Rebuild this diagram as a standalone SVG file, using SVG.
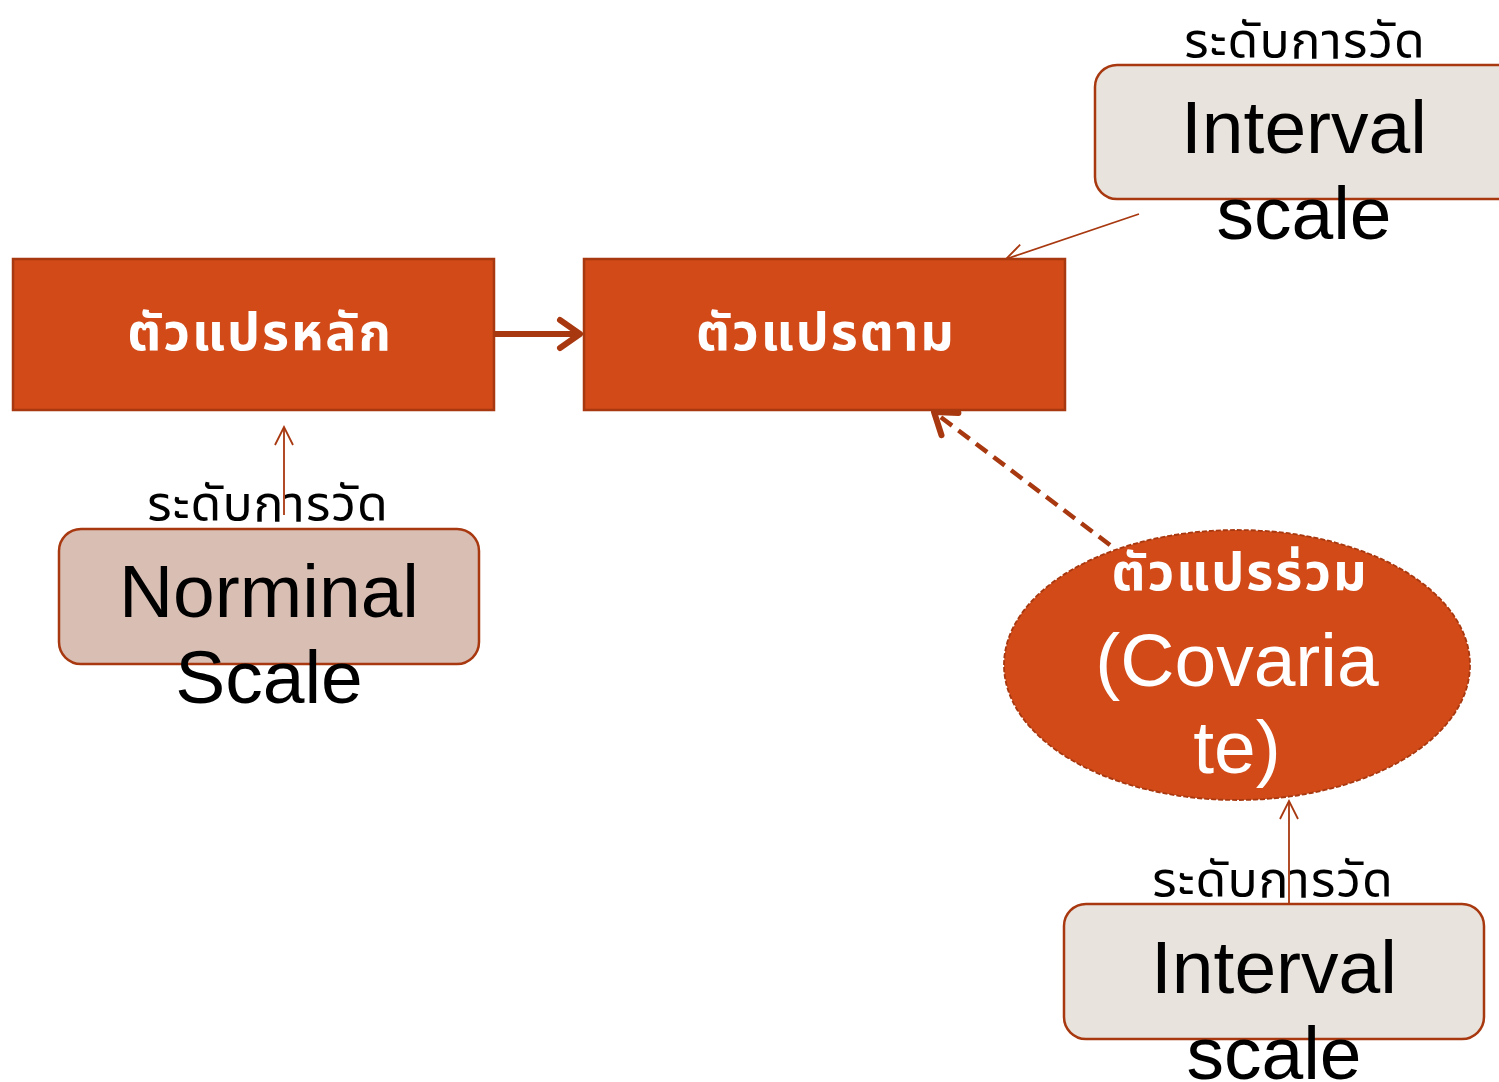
<svg xmlns="http://www.w3.org/2000/svg" width="1499" height="1082" viewBox="0 0 1499 1082">
<style>
.box{fill:#D14A18;stroke:#A8380F;stroke-width:2.5}
.scale{stroke:#A8380F;stroke-width:2.5}
.lt{fill:#E8E3DC}
.pk{fill:#D9BEB4}
.en{font-family:"Liberation Sans",Arial,sans-serif;font-size:75px;text-anchor:middle;fill:#000}
.th{font-family:"Noto Sans","Noto Sans Thai","DejaVu Sans",sans-serif;font-size:50px;letter-spacing:1px;text-anchor:middle;fill:#000}
.thw{font-family:"Noto Sans","Noto Sans Thai","DejaVu Sans",sans-serif;font-size:52px;letter-spacing:2px;font-weight:bold;text-anchor:middle;fill:#fff}
.thin{fill:none;stroke:#A8380F;stroke-width:1.8}
</style>
<defs>
<marker id="open" markerWidth="24" markerHeight="24" refX="19" refY="10" orient="auto" markerUnits="userSpaceOnUse">
<path d="M1,1 L19,10 L1,19" fill="none" stroke="#A8380F" stroke-width="1.8"/>
</marker>
<marker id="thick" markerWidth="30" markerHeight="36" refX="24" refY="18" orient="auto" markerUnits="userSpaceOnUse">
<path d="M4,4 L24,18 L4,32" fill="none" stroke="#A8380F" stroke-width="6" stroke-linecap="round" stroke-linejoin="round"/>
</marker>
</defs>
<g id="connectors">
<line x1="494" y1="334" x2="580" y2="334" stroke="#A8380F" stroke-width="6" marker-end="url(#thick)"/>
<line x1="1110" y1="545" x2="934" y2="412" stroke="#A8380F" stroke-width="4.5" stroke-dasharray="14,8" marker-end="url(#thick)"/>
<line x1="1139" y1="214" x2="1006" y2="259" class="thin" marker-end="url(#open)"/>
</g>
<g id="node-main">
<rect x="13" y="259" width="481" height="151" class="box"/>
<text x="260" y="350" class="thw">ตัวแปรหลัก</text>
</g>
<g id="node-dependent">
<rect x="584" y="259" width="481" height="151" class="box"/>
<text x="826" y="350" class="thw">ตัวแปรตาม</text>
</g>
<g id="node-interval-top">
<rect x="1095" y="65" width="430" height="134" rx="22" class="lt scale"/>
<text x="1305" y="58" class="th">ระดับการวัด</text>
<text x="1304" y="153" class="en">Interval</text>
<text x="1304" y="239" class="en">scale</text>
</g>
<g id="node-nominal">
<rect x="59" y="529" width="420" height="135" rx="22" class="pk scale"/>
<text x="268" y="521" class="th">ระดับการวัด</text>
<text x="269" y="617" class="en">Norminal</text>
<text x="269" y="703" class="en">Scale</text>
</g>
<g id="node-covariate">
<ellipse cx="1237" cy="665" rx="233" ry="135" fill="#D14A18" stroke="#A8380F" stroke-width="1.8" stroke-dasharray="5,2"/>
<text x="1240" y="590" class="thw">ตัวแปรร่วม</text>
<text x="1237" y="686" class="en" style="fill:#fff">(Covaria</text>
<text x="1237" y="773" class="en" style="fill:#fff">te)</text>
</g>
<g id="node-interval-bottom">
<rect x="1064" y="904" width="420" height="135" rx="22" class="lt scale"/>
<text x="1273" y="897" class="th">ระดับการวัด</text>
<text x="1274" y="993" class="en">Interval</text>
<text x="1274" y="1079" class="en">scale</text>
</g>
<g id="measure-arrows">
<line x1="284" y1="515" x2="284" y2="427" class="thin" marker-end="url(#open)"/>
<line x1="1289" y1="904" x2="1289" y2="801" class="thin" marker-end="url(#open)"/>
</g>
</svg>
